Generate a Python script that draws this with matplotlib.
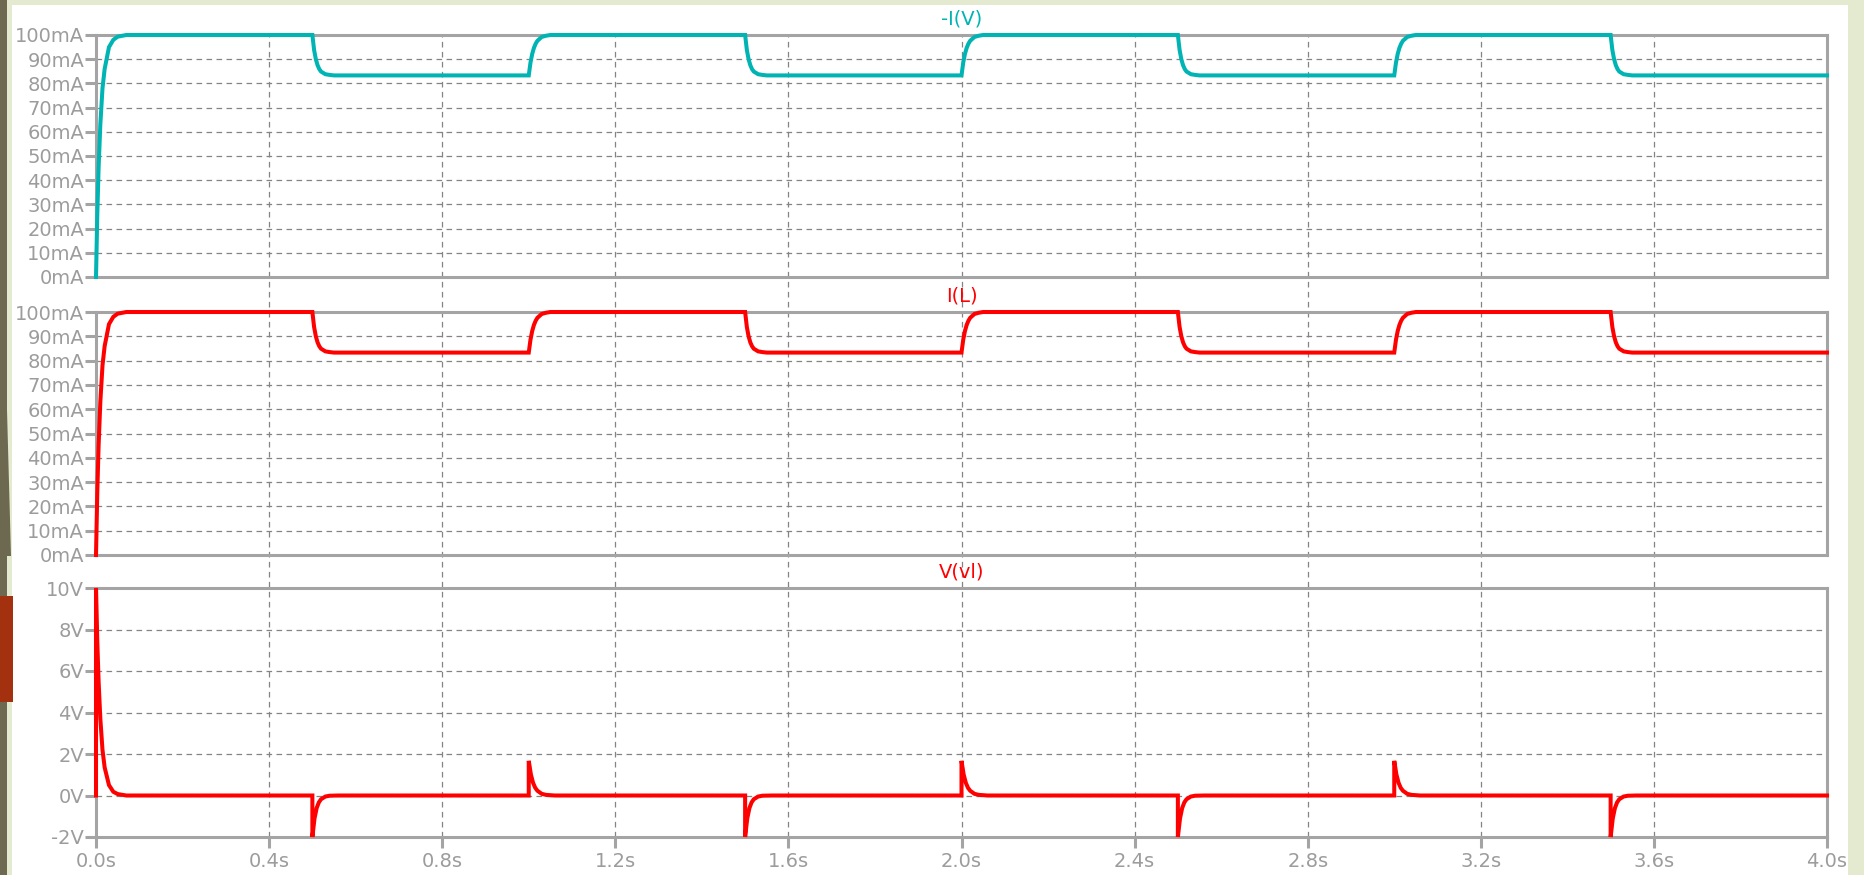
import matplotlib
matplotlib.use("Agg")
import matplotlib.pyplot as plt
from matplotlib.patches import Rectangle, Polygon

# ---- waveform samples (time in s) ----
switch_times = [0.5, 1.0, 1.5, 2.0, 2.5, 3.0, 3.5]
t_end = 4.0

# inductor current, mA
startup_dt_i = [0.0, 0.003, 0.006, 0.010, 0.015, 0.020, 0.030, 0.040, 0.050, 0.070]
startup_i = [0.0, 26.0, 45.0, 63.0, 78.0, 86.0, 95.0, 98.0, 99.3, 100.0]
edge_dt_i = [0.0, 0.004, 0.008, 0.012, 0.016, 0.020, 0.030, 0.040, 0.050]
fall_i = [100.0, 93.8, 90.0, 87.5, 85.9, 84.9, 83.8, 83.5, 83.3]
rise_i = [83.3, 88.6, 92.2, 94.7, 96.4, 97.6, 99.2, 99.7, 100.0]

# inductor voltage, V
startup_dt_v = [0.0, 0.0, 0.003, 0.006, 0.010, 0.015, 0.020, 0.030, 0.040, 0.050, 0.070]
startup_v = [0.0, 10.0, 7.4, 5.5, 3.7, 2.2, 1.35, 0.5, 0.18, 0.07, 0.0]
edge_dt_v = [0.0, 0.0, 0.005, 0.010, 0.015, 0.020, 0.030, 0.040, 0.060]
fall_v = [0.0, -2.0, -1.10, -0.60, -0.33, -0.18, -0.05, -0.01, 0.0]
rise_v = [0.0, 1.67, 1.01, 0.61, 0.37, 0.23, 0.08, 0.03, 0.0]

x_ticks = [0.0, 0.4, 0.8, 1.2, 1.6, 2.0, 2.4, 2.8, 3.2, 3.6, 4.0]
x_labels = ["0.0s", "0.4s", "0.8s", "1.2s", "1.6s", "2.0s", "2.4s", "2.8s", "3.2s", "3.6s", "4.0s"]
i_ticks = [0, 10, 20, 30, 40, 50, 60, 70, 80, 90, 100]
i_labels = ["0mA", "10mA", "20mA", "30mA", "40mA", "50mA", "60mA", "70mA", "80mA", "90mA", "100mA"]
v_ticks = [-2, 0, 2, 4, 6, 8, 10]
v_labels = ["-2V", "0V", "2V", "4V", "6V", "8V", "10V"]


def build(start_dt, start_vals, edge_dt, falling, rising):
    t = list(start_dt)
    y = list(start_vals)
    for k, ts in enumerate(switch_times):
        vals = falling if k % 2 == 0 else rising
        t += [ts + d for d in edge_dt]
        y += vals
    t.append(t_end)
    y.append(y[-1])
    return t, y


t_i, i_mA = build(startup_dt_i, startup_i, edge_dt_i, fall_i, rise_i)
t_v, v_l = build(startup_dt_v, startup_v, edge_dt_v, fall_v, rise_v)

# ---- figure ----
W, H = 1864, 875
fig = plt.figure(figsize=(W / 100, H / 100), dpi=100)
fig.patch.set_facecolor("#e3ead0")


def fx(px):
    return px / W


def fy(py):
    return 1 - py / H


# page decorations
fig.add_artist(Rectangle((fx(12), 0), fx(1848) - fx(12), fy(5), transform=fig.transFigure,
                         facecolor="white", edgecolor="none", zorder=-10))
fig.add_artist(Rectangle((0, 0), fx(7), 1, transform=fig.transFigure,
                         facecolor="#6d6850", edgecolor="none", zorder=-9))
fig.add_artist(Polygon([(fx(7), fy(410)), (fx(11), fy(556)), (fx(7), fy(556))],
                       closed=True, transform=fig.transFigure,
                       facecolor="#6d6850", edgecolor="none", zorder=-9))
fig.add_artist(Rectangle((0, fy(702)), fx(13), fy(596) - fy(702), transform=fig.transFigure,
                         facecolor="#a33110", edgecolor="none", zorder=-8))

left, right = 96, 1827
panels_px = [(35, 277), (312, 555), (588, 837)]

frame_col = "#a4a4a4"
grid_col = "#848484"
text_col = "#9c9c9c"
teal = "#00b4b4"
red = "#ff0000"
fs = 14

# vertical grid spanning all panels
ax_bg = fig.add_axes([fx(left), fy(panels_px[2][1]), fx(right) - fx(left),
                      fy(panels_px[0][0]) - fy(panels_px[2][1])])
ax_bg.set_xlim(0, 4)
ax_bg.set_ylim(0, 1)
ax_bg.axis("off")
ax_bg.patch.set_alpha(0)
for xt in x_ticks[1:-1]:
    ax_bg.plot([xt, xt], [0, 1], color=grid_col, lw=0.9, linestyle=(0, (4.5, 3.5)))

specs = [
    ("-I(V)", teal, t_i, i_mA, (0, 100), i_ticks, i_labels),
    ("I(L)", red, t_i, i_mA, (0, 100), i_ticks, i_labels),
    ("V(vl)", red, t_v, v_l, (-2, 10), v_ticks, v_labels),
]

for n, ((top, bot), (title, col, tx, ty, ylim, yt, yl)) in enumerate(zip(panels_px, specs)):
    ax = fig.add_axes([fx(left), fy(bot), fx(right) - fx(left), fy(top) - fy(bot)])
    ax.patch.set_alpha(0)
    ax.set_xlim(0, 4)
    ax.set_ylim(*ylim)
    for s in ax.spines.values():
        s.set_color(frame_col)
        s.set_linewidth(2.2)
    for yv in yt[1:-1]:
        ax.axhline(yv, color=grid_col, lw=0.9, linestyle=(0, (4.5, 3.5)), zorder=1)
    ax.plot(tx, ty, color=col, lw=2.9, clip_on=False, zorder=4,
            solid_joinstyle="miter")
    ax.set_yticks(yt)
    ax.set_yticklabels(yl)
    ax.tick_params(axis="y", direction="out", length=8, width=2.2, color=frame_col,
                   labelcolor=text_col, labelsize=fs, pad=0.5)
    if n == 2:
        ax.set_xticks(x_ticks)
        ax.set_xticklabels(x_labels)
        ax.tick_params(axis="x", direction="out", length=8, width=2.2, color=frame_col,
                       labelcolor=text_col, labelsize=fs, pad=2.5)
    else:
        ax.set_xticks([])
    ax.annotate(title, xy=(0.5, 1), xycoords="axes fraction", xytext=(0, 11.5),
                textcoords="offset points", ha="center", va="center",
                color=col, fontsize=fs)

fig.savefig("out.png", dpi=100, facecolor=fig.get_facecolor())
